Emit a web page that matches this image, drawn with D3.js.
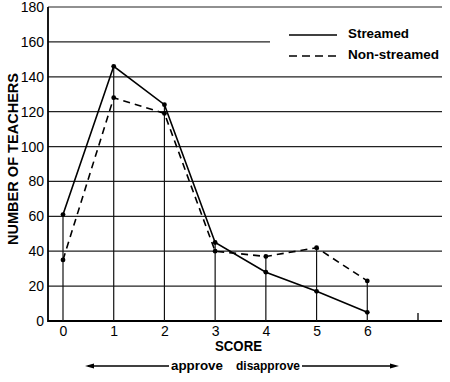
<!DOCTYPE html>
<html><head><meta charset="utf-8">
<script src="https://cdn.jsdelivr.net/npm/d3@7"></script>
<style>
body{margin:0;background:#fff;}
svg{display:block;}
</style></head>
<body>
<svg id="c" width="450" height="382"></svg>
<script>
const scores = [0,1,2,3,4,5,6];
const streamed = [61,146,124,45,28,17,5];
const nonStreamed = [35,128,119,40,37,42,23];
const yTicks = [0,20,40,60,80,100,120,140,160,180];
const seriesNames = ["Streamed","Non-streamed"];
const yTitle = "NUMBER OF TEACHERS";
const xTitle = "SCORE";
const leftNote = "approve";
const rightNote = "disapprove";

const svg = d3.select("#c");
const x = d3.scaleLinear().domain([0,7]).range([63,418]);
const y = d3.scaleLinear().domain([0,180]).range([321,7]);
const x0 = 48, x1 = 442;
const cond = "'Liberation Sans',Arial,sans-serif";

function label(sel, len){
  return sel.attr("font-family",cond).attr("font-weight","bold")
    .attr("textLength",len).attr("lengthAdjust","spacingAndGlyphs").attr("fill","#000");
}

// gridlines
svg.append("g").selectAll("line").data(yTicks.filter(d=>d>0)).join("line")
  .attr("x1",x0).attr("x2",d=>d===160?270:x1)
  .attr("y1",d=>y(d)).attr("y2",d=>y(d))
  .attr("stroke","#222").attr("stroke-width",1.2);

// axes
svg.append("line").attr("x1",x0).attr("x2",x0).attr("y1",y(180)).attr("y2",y(0)+1)
  .attr("stroke","#000").attr("stroke-width",1.8);
svg.append("line").attr("x1",x0).attr("x2",x1).attr("y1",y(0)).attr("y2",y(0))
  .attr("stroke","#000").attr("stroke-width",1.8);
svg.append("line").attr("x1",x(7)).attr("x2",x(7)).attr("y1",y(0)).attr("y2",y(0)-8)
  .attr("stroke","#000").attr("stroke-width",1.3);

// y tick labels
const ya = d3.axisLeft(y).tickValues(yTicks).tickSize(0).tickPadding(4);
const gy = svg.append("g").attr("transform",`translate(${x0},0)`).call(ya);
gy.select(".domain").remove();
gy.selectAll("text").attr("font-family","'Liberation Sans',Arial,sans-serif")
  .attr("font-size",14).attr("fill","#000");

// x tick labels
const xa = d3.axisBottom(x).tickValues(scores).tickSize(0).tickPadding(5).tickFormat(d3.format("d"));
const gx = svg.append("g").attr("transform",`translate(0,${y(0)})`).call(xa);
gx.select(".domain").remove();
gx.selectAll("text").attr("font-family","'Liberation Sans',Arial,sans-serif")
  .attr("font-size",14).attr("fill","#000");

// drop lines
svg.append("g").selectAll("line").data(scores).join("line")
  .attr("x1",d=>x(d)).attr("x2",d=>x(d))
  .attr("y1",(d,i)=>y(Math.max(streamed[i],nonStreamed[i]))).attr("y2",y(0))
  .attr("stroke","#111").attr("stroke-width",1.2);

const line = d3.line().x((d,i)=>x(scores[i])).y(d=>y(d));
svg.append("path").datum(streamed).attr("d",line).attr("fill","none")
  .attr("stroke","#000").attr("stroke-width",1.6);
svg.append("path").datum(nonStreamed).attr("d",line).attr("fill","none")
  .attr("stroke","#000").attr("stroke-width",1.6).attr("stroke-dasharray","7,5");

[streamed,nonStreamed].forEach(s=>{
  svg.append("g").selectAll("circle").data(s).join("circle")
    .attr("cx",(d,i)=>x(scores[i])).attr("cy",d=>y(d)).attr("r",2.4).attr("fill","#000");
});

// legend
svg.append("line").attr("x1",289).attr("x2",337).attr("y1",35).attr("y2",35)
  .attr("stroke","#000").attr("stroke-width",1.6);
svg.append("line").attr("x1",289).attr("x2",337).attr("y1",56).attr("y2",56)
  .attr("stroke","#000").attr("stroke-width",1.6).attr("stroke-dasharray","8,5");
label(svg.append("text").attr("x",348).attr("y",38).text(seriesNames[0]).attr("font-size",13),61);
label(svg.append("text").attr("x",348).attr("y",59).text(seriesNames[1]).attr("font-size",13),91);

// axis titles
label(svg.append("text").attr("transform","translate(18,159) rotate(-90)").attr("text-anchor","middle")
  .text(yTitle).attr("font-size",14),172);
label(svg.append("text").attr("x",238.5).attr("y",351).attr("text-anchor","middle").text(xTitle)
  .attr("font-size",14),47);

// approve / disapprove arrow
const noteY = 366;
label(svg.append("text").attr("x",171).attr("y",370).text(leftNote).attr("font-size",13.5),52);
label(svg.append("text").attr("x",236).attr("y",370).text(rightNote).attr("font-size",13.5),64);
svg.append("line").attr("x1",88).attr("x2",169).attr("y1",noteY).attr("y2",noteY).attr("stroke","#000").attr("stroke-width",1.3);
svg.append("line").attr("x1",302).attr("x2",395).attr("y1",noteY).attr("y2",noteY).attr("stroke","#000").attr("stroke-width",1.3);
svg.append("path").attr("d",`M85,${noteY} l9,-2.5 l0,5 z`).attr("fill","#000");
svg.append("path").attr("d",`M399,${noteY} l-9,-2.5 l0,5 z`).attr("fill","#000");
</script>
</body></html>
